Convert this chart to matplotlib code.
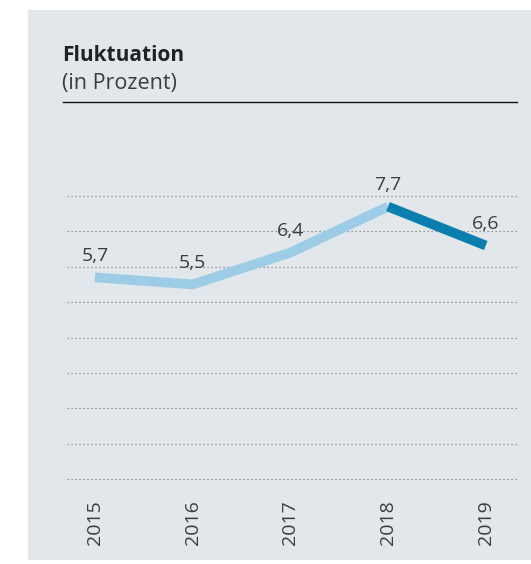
import matplotlib.pyplot as plt
from matplotlib.patches import Rectangle
from matplotlib.lines import Line2D

years = ['2015', '2016', '2017', '2018', '2019']
fluktuation = [5.7, 5.5, 6.4, 7.7, 6.6]

light_blue = '#9dcde6'
dark_blue = '#0a7fad'
panel_grey = '#e1e7ea'
text_grey = '#3c3c3c'

plt.rcParams['font.family'] = ['Open Sans', 'DejaVu Sans']

W, H = 531, 564
fig = plt.figure(figsize=(W / 100, H / 100), dpi=100)
fig.patch.set_facecolor('white')

# grey panel behind everything
fig.add_artist(Rectangle((28 / W, 1 - 560 / H), 1 - 28 / W, (560 - 10) / H,
                         transform=fig.transFigure, facecolor=panel_grey,
                         edgecolor='none', zorder=0))

fig.text(62 / W, 1 - 61 / H, 'Fluktuation', fontsize=15, fontweight='bold',
         color='#222222', va='baseline')
fig.text(62 / W, 1 - 89 / H, '(in Prozent)', fontsize=15.5, color=text_grey,
         va='baseline')
fig.add_artist(Line2D([63 / W, 517 / W], [1 - 102 / H, 1 - 102 / H],
                      transform=fig.transFigure, color='#111111', lw=1))

ax = fig.add_axes([67 / W, 1 - 479 / H, (518 - 67) / W, (479 - 196) / H])
ax.set_facecolor('none')
x = list(range(len(years)))

for g in range(0, 9):
    ax.axhline(g, color='#7a7f83', lw=0.9, ls=(0, (1, 2.2)), zorder=1,
               clip_on=False)

ax.plot(x[:4], fluktuation[:4], color=light_blue, lw=7, solid_capstyle='butt',
        solid_joinstyle='miter', zorder=3)
ax.plot(x[3:], fluktuation[3:], color=dark_blue, lw=7, solid_capstyle='butt',
        solid_joinstyle='miter', zorder=4)

for xi, v in zip(x, fluktuation):
    ax.annotate(f'{v:.1f}'.replace('.', ','), (xi, v), xytext=(0, 12),
                textcoords='offset points', ha='center', va='baseline',
                fontsize=14, color=text_grey, zorder=5)

ax.set_xlim(-0.286, 4.33)
ax.set_ylim(0, 8)
ax.set_xticks(x)
ax.set_xticklabels(years, rotation=90, fontsize=14, color=text_grey)
ax.tick_params(axis='x', length=0, pad=15)
ax.set_yticks([])
for s in ax.spines.values():
    s.set_visible(False)

fig.savefig('out.png', dpi=100, facecolor=fig.get_facecolor())
